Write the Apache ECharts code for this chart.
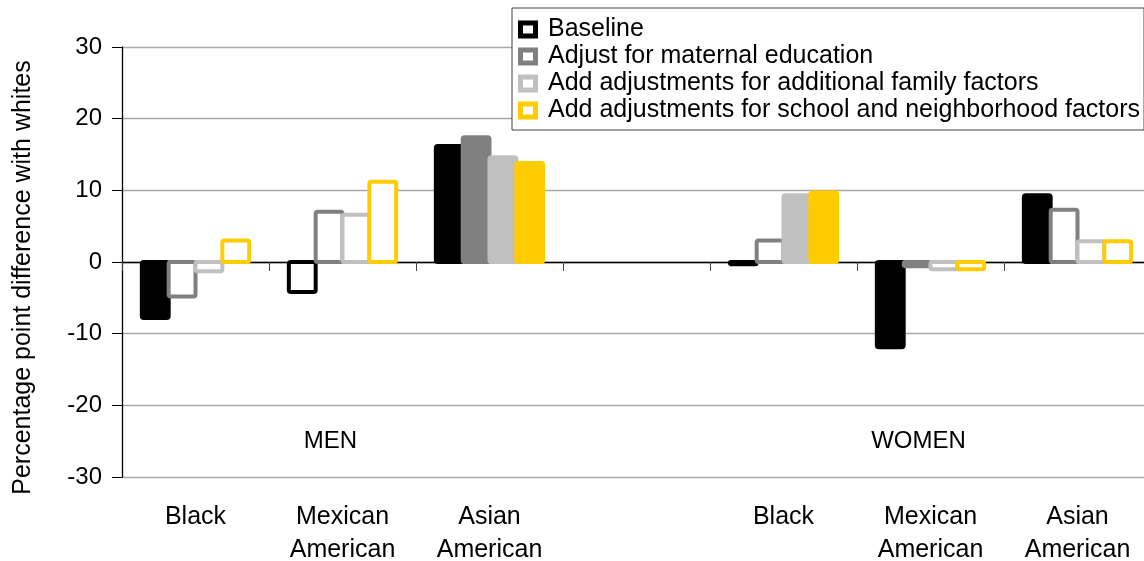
<!DOCTYPE html>
<html>
<head>
<meta charset="utf-8">
<script src="https://cdn.jsdelivr.net/npm/echarts@6/dist/echarts.min.js"></script>
<style>
  html, body { margin: 0; padding: 0; background: #fff; }
  #chart { width: 1144px; height: 561px; }
</style>
</head>
<body>
<div id="chart"></div>
<script>
// Category labels (an empty slot separates men from women)
const categories = ['Black', 'Mexican\nAmerican', 'Asian\nAmerican', '', 'Black', 'Mexican\nAmerican', 'Asian\nAmerican'];

// Percentage point difference with whites, per model
const baseline = [-7.8, -4.2, 16.2, null, -0.3, -11.9, 9.3];
const maternal = [-4.8, 7.0, 17.4, null, 3.0, -0.6, 7.3];
const family   = [-1.3, 6.6, 14.6, null, 9.3, -1.0, 2.9];
const school   = [3.0, 11.2, 13.8, null, 9.7, -1.0, 2.9];

// 1 = solid bar, 0 = outlined bar
const baselineSolid = [1, 0, 1, null, 1, 1, 1];
const maternalSolid = [0, 0, 1, null, 0, 1, 0];
const familySolid   = [0, 0, 1, null, 1, 0, 0];
const schoolSolid   = [0, 0, 1, null, 1, 0, 0];

const seriesNames = [
  'Baseline',
  'Adjust for maternal education',
  'Add adjustments for additional family factors',
  'Add adjustments for school and neighborhood factors'
];
const groupLabels = ['MEN', 'WOMEN'];
const groupIndex = [1, 5];
const groupLabelValue = -25;

const yTicks = { min: -30, max: 30, interval: 10 };

const colors = ['#000000', '#808080', '#c0c0c0', '#ffcc00'];
const FONT = 'Liberation Sans, Arial, sans-serif';
const GROUP_RATIO = 0.73;   // share of each category band covered by its bars
const OUTLINE = 4;          // bar outline width, centred on the bar edge

const valueSets = [baseline, maternal, family, school];
const solidSets = [baselineSolid, maternalSolid, familySolid, schoolSolid];

// [category index, value, solid flag] rows, skipping the empty slot
function buildRows(values, solid) {
  const rows = [];
  values.forEach((v, i) => { if (v !== null) rows.push([i, v, solid[i]]); });
  return rows;
}

// Clustered bar drawn through the axes, with its outline straddling the edge
function makeRenderer(k, count) {
  return function (params, api) {
    const ci = api.value(0);
    const v = api.value(1);
    const solid = api.value(2);
    const band = api.size([1, 0])[0];
    const groupW = band * GROUP_RATIO;
    const w = groupW / count;
    const base = api.coord([ci, 0]);
    const end = api.coord([ci, v]);
    return {
      type: 'rect',
      shape: {
        x: base[0] - groupW / 2 + k * w,
        y: Math.min(base[1], end[1]),
        width: w,
        height: Math.abs(end[1] - base[1]),
        r: 2
      },
      style: {
        fill: solid ? colors[k] : '#ffffff',
        stroke: colors[k],
        lineWidth: OUTLINE,
        lineJoin: 'round'
      }
    };
  };
}

const series = seriesNames.map((name, k) => ({
  name: name,
  type: 'custom',
  xAxisIndex: 0,
  yAxisIndex: 0,
  renderItem: makeRenderer(k, seriesNames.length),
  encode: { x: 0, y: 1 },
  itemStyle: { color: colors[k] },
  emphasis: { disabled: true },
  data: buildRows(valueSets[k], solidSets[k])
}));

const chart = echarts.init(document.getElementById('chart'), null, { renderer: 'canvas' });

const option = {
  animation: false,
  backgroundColor: '#ffffff',
  textStyle: { fontFamily: FONT },
  grid: { left: 122, top: 47, width: 1029, height: 430, containLabel: false, outerBoundsMode: 'none' },
  legend: {
    orient: 'vertical',
    left: 512,
    top: 8,
    padding: [8, 4, 6, 6],
    itemGap: 0,
    itemWidth: 20,
    itemHeight: 18,
    backgroundColor: '#ffffff',
    borderColor: '#404040',
    borderWidth: 1,
    borderRadius: 0,
    icon: 'path://M0,0H20V18H0Z M5,5V13H15V5Z',
    itemStyle: { borderWidth: 0 },
    textStyle: { fontFamily: FONT, fontSize: 25, lineHeight: 27, color: '#000', padding: [0, 0, 0, 5] },
    data: seriesNames
  },
  xAxis: [
    {
      type: 'category',
      data: categories,
      axisLine: { onZero: true, lineStyle: { color: '#000', width: 1.3 } },
      axisTick: { show: true, length: 9, lineStyle: { color: '#444' } },
      axisLabel: { show: false },
      splitLine: { show: false }
    },
    {
      type: 'category',
      data: categories,
      position: 'bottom',
      axisLine: { show: false, onZero: false },
      axisTick: { show: false },
      axisLabel: { show: true, interval: 0, margin: 24, fontSize: 25, lineHeight: 33, color: '#000', fontFamily: FONT },
      splitLine: { show: false }
    }
  ],
  yAxis: {
    type: 'value',
    min: yTicks.min,
    max: yTicks.max,
    interval: yTicks.interval,
    name: 'Percentage point difference with whites',
    nameLocation: 'middle',
    nameGap: 86,
    nameRotate: 90,
    nameTextStyle: { fontSize: 25, color: '#000', fontFamily: FONT, padding: [0, 31, 0, 0] },
    axisLine: { show: true, lineStyle: { color: '#000', width: 1.3 } },
    axisTick: { show: true, length: 10, lineStyle: { color: '#000' } },
    axisLabel: { fontSize: 24, color: '#000', margin: 20, fontFamily: FONT },
    splitLine: { show: true, lineStyle: { color: '#a8a8a8', width: 1.3 } }
  },
  series: series
};

chart.setOption(option);

// Group captions placed through the axes
const graphics = groupLabels.map((label, i) => {
  const p = chart.convertToPixel({ xAxisIndex: 0, yAxisIndex: 0 }, [groupIndex[i], groupLabelValue]);
  return {
    type: 'text',
    x: p[0] - 12,
    y: p[1],
    style: { text: label, fontSize: 24, fontFamily: FONT, fill: '#000', textAlign: 'center', textVerticalAlign: 'middle' }
  };
});
chart.setOption({ graphic: graphics });
</script>
</body>
</html>
